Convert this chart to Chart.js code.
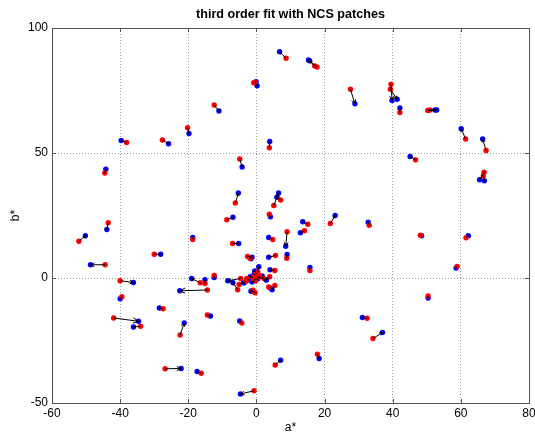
<!DOCTYPE html>
<html>
<head>
<meta charset="utf-8">
<script src="https://cdn.jsdelivr.net/npm/chart.js@4/dist/chart.umd.min.js"></script>
<style>
  body { margin: 0; background: #fff; }
  #chart { display: block; }
</style>
</head>
<body>
<canvas id="chart" width="535" height="434"></canvas>
<script>
// measured NCS patches (red) and third order fit (blue), a* / b*
const redA = [-44.5, -38.1, -27.6, -20.2, -12.4, -0.8, -0.4, -4.9, -6.2, 3.8,
  8.7, 17.1, 17.8, 27.6, 39.5, 39.3, 42.1, 50.3, 50.9, 61.4,
  67.4, 46.7, 66.8, 66.6, 5.1, 7.1, 3.8, 21.7, -43.5, -52.1,
  -44.4, -30.0, -18.7, -8.7, -7.0, -2.6, -1.9, -40.0, -39.5, -27.4,
  -41.9, -34.0, -22.4, -26.8, -16.2, -0.7, -14.4, -4.3, -16.5, -15.1,
  -14.4, -12.4, -4.6, -5.5, -5.1, -2.8, -0.4, 15.1, 14.1, 9.0,
  4.8, 33.1, 48.1, 61.5, 8.9, 5.6, 5.4, 15.7, 58.9, 50.4,
  32.5, 34.2, 17.9, 5.5, 3.9, 3.6, 5.4, 0.4, -0.3, -1.0,
  2.2, -0.3, 0.6, -1.0, 1.0, -0.8, 0.0, -3.0]
const redB = [42.0, 54.2, 55.2, 60.1, 69.2, 78.1, 78.2, 47.6, 30.0, 52.1,
  87.9, 84.8, 84.4, 75.5, 77.5, 75.5, 66.2, 67.0, 67.2, 55.6,
  51.0, 47.3, 42.3, 40.9, 29.0, 31.2, 25.5, 21.8, 22.1, 14.7,
  5.3, 9.5, 15.4, 23.3, 13.8, 8.6, 7.9, -1.1, -7.5, -12.3,
  -16.0, -19.3, -22.8, -36.3, -38.1, -45.1, -14.8, -18.0, -1.9, -2.2,
  -4.8, 1.0, -0.2, -4.7, -2.6, -0.2, -5.9, 21.5, 18.9, 18.5,
  15.4, 21.1, 17.1, 16.1, 7.9, 9.0, 3.0, 3.0, 4.6, -7.2,
  -16.1, -24.2, -30.5, -34.8, 0.5, -3.6, -3.0, 2.4, 1.4, 0.2,
  -0.2, -1.2, 0.4, -4.9, 0.8, -0.5, 1.6, -1.2]
const blueA = [-44.2, -39.7, -25.8, -19.8, -11.0, -0.1, 0.2, -4.2, -5.3, 3.9,
  6.8, 15.3, 15.6, 28.9, 39.8, 41.3, 42.1, 52.4, 52.9, 60.1,
  66.4, 45.1, 65.5, 66.9, 6.5, 6.0, 4.1, 23.1, -43.9, -50.2,
  -48.7, -28.1, -18.7, -6.9, -5.2, -1.3, -1.6, -36.1, -40.0, -28.5,
  -34.6, -36.1, -21.2, -22.1, -17.4, -4.7, -13.5, -4.9, -19.0, -15.1,
  -22.5, -12.4, -8.4, -6.9, -3.8, -2.4, -1.4, 13.6, 12.9, 8.6,
  3.6, 32.8, 48.5, 62.2, 9.0, 3.6, 4.0, 15.7, 58.6, 50.4,
  31.1, 37.0, 18.4, 7.1, 2.9, 4.0, 4.6, 0.7, -0.7, -1.8,
  1.7, -1.3, 2.9, -1.6, 0.2, 0.4, -0.5, -3.6]
const blueB = [43.5, 55.0, 53.7, 57.8, 66.8, 78.5, 76.9, 44.4, 34.0, 54.6,
  90.5, 87.2, 86.9, 69.7, 71.0, 71.5, 68.0, 67.2, 67.2, 59.7,
  55.6, 48.6, 39.3, 38.9, 34.0, 32.3, 24.5, 25.0, 19.4, 16.9,
  5.3, 9.5, 16.2, 24.3, 13.8, 8.3, 7.7, -1.8, -8.3, -12.0,
  -17.3, -19.6, -18.0, -36.2, -37.4, -46.4, -15.2, -17.2, -0.2, -0.7,
  -5.1, 0.2, -1.1, -1.9, -1.9, -0.8, -5.1, 22.5, 18.1, 12.7,
  16.2, 22.3, 16.9, 16.9, 9.4, 8.3, 3.3, 4.2, 4.0, -8.0,
  -15.8, -21.8, -32.2, -32.9, -0.7, -3.9, -4.7, 4.5, 1.4, 0.5,
  0.8, -1.6, -0.8, -5.3, 0.0, -0.3, 2.8, -1.9]

const xTicks = [-60, -40, -20, 0, 20, 40, 60, 80]
const yTicks = [-50, 0, 50, 100]

const toPoints = (xs, ys) => xs.map((x, i) => ({ x: x, y: ys[i] }))

// box round the axes plus small inward ticks, matlab style
const boxPlugin = {
  id: "box",
  afterDraw(chart) {
    const ctx = chart.ctx
    const a = chart.chartArea
    const sx = chart.scales.x
    const sy = chart.scales.y
    ctx.save()
    ctx.strokeStyle = "#555"
    ctx.lineWidth = 1
    ctx.beginPath()
    xTicks.forEach((v) => {
      const px = Math.round(sx.getPixelForValue(v)) + 0.5
      ctx.moveTo(px, a.bottom); ctx.lineTo(px, a.bottom - 4)
      ctx.moveTo(px, a.top); ctx.lineTo(px, a.top + 4)
    })
    yTicks.forEach((v) => {
      const py = Math.round(sy.getPixelForValue(v)) + 0.5
      ctx.moveTo(a.left, py); ctx.lineTo(a.left + 4, py)
      ctx.moveTo(a.right, py); ctx.lineTo(a.right - 4, py)
    })
    ctx.stroke()
    ctx.strokeRect(Math.round(a.left) + 0.5, Math.round(a.top) + 0.5,
      Math.round(a.right - a.left), Math.round(a.bottom - a.top))
    ctx.restore()
  },
}

// arrows from each measured patch to its fitted value
const arrowPlugin = {
  id: "arrows",
  afterDatasetsDraw(chart) {
    const ctx = chart.ctx
    const sx = chart.scales.x
    const sy = chart.scales.y
    ctx.save()
    ctx.strokeStyle = "#000"
    ctx.lineWidth = 1
    redA.forEach((v, i) => {
      const x0 = sx.getPixelForValue(v)
      const y0 = sy.getPixelForValue(redB[i])
      const x1 = sx.getPixelForValue(blueA[i])
      const y1 = sy.getPixelForValue(blueB[i])
      const len = Math.hypot(x1 - x0, y1 - y0)
      if (len < 1) return
      const ang = Math.atan2(y1 - y0, x1 - x0)
      const h = Math.min(len * 0.3, 6)
      ctx.beginPath()
      ctx.moveTo(x0, y0)
      ctx.lineTo(x1, y1)
      ctx.moveTo(x1 - h * Math.cos(ang - 0.45), y1 - h * Math.sin(ang - 0.45))
      ctx.lineTo(x1, y1)
      ctx.lineTo(x1 - h * Math.cos(ang + 0.45), y1 - h * Math.sin(ang + 0.45))
      ctx.stroke()
    })
    ctx.restore()
  },
}

const font = { family: "'Liberation Sans', Arial, sans-serif", size: 12 }
const gridStyle = {
  color: "#a0a0a0",
  lineWidth: 1,
  drawTicks: false,
}

const config = {
  type: "scatter",
  data: {
    datasets: [
      {
        label: "measured",
        data: toPoints(redA, redB),
        backgroundColor: "#ff0000",
        pointRadius: 2.7,
        borderWidth: 0,
      },
      {
        label: "fit",
        data: toPoints(blueA, blueB),
        backgroundColor: "#0000ff",
        pointRadius: 2.7,
        borderWidth: 0,
      },
    ],
  },
  options: {
    responsive: false,
    animation: false,
    layout: { padding: { left: 0, right: 6, top: 0, bottom: 0 } },
    plugins: {
      legend: { display: false },
      tooltip: { enabled: false },
      title: {
        display: true,
        fullSize: false,
        text: "third order fit with NCS patches",
        color: "#000",
        font: { family: font.family, size: 12.6, weight: "bold", lineHeight: 1.2 },
        padding: { top: 6.5, bottom: 6.4 },
      },
    },
    scales: {
      x: {
        type: "linear",
        min: -60,
        max: 80,
        afterBuildTicks: (s) => { s.ticks = xTicks.map((v) => ({ value: v })) },
        afterFit: (s) => { s.height = 31; s.paddingLeft = 0; s.paddingRight = 0 },
        grid: { ...gridStyle },
        border: { display: false, dash: [1, 2] },
        ticks: { color: "#000", font: font, padding: 3, maxRotation: 0 },
        title: { display: true, text: "a*", color: "#000", font: { ...font, lineHeight: 1 }, padding: 0 },
      },
      y: {
        type: "linear",
        min: -50,
        max: 100,
        afterBuildTicks: (s) => { s.ticks = yTicks.map((v) => ({ value: v })) },
        afterFit: (s) => { s.width = 52 },
        grid: { ...gridStyle },
        border: { display: false, dash: [1, 2] },
        ticks: { color: "#000", font: font, padding: 4 },
        title: { display: true, text: "b*", color: "#000", font: { ...font, lineHeight: 1 }, padding: { top: 10, bottom: 0 } },
      },
    },
  },
  plugins: [arrowPlugin, boxPlugin],
}

const chart = new Chart(document.getElementById("chart"), config)
</script>
</body>
</html>
